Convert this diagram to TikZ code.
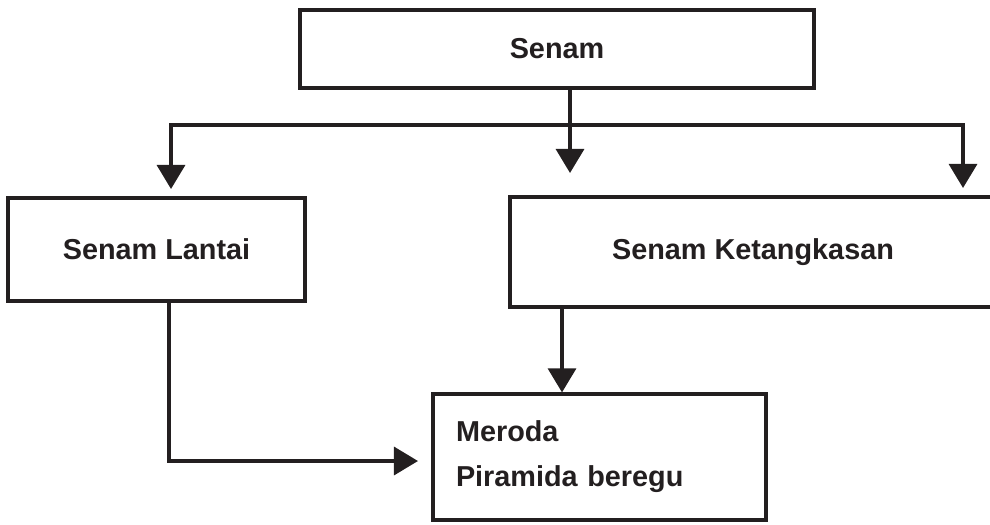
\documentclass[tikz,border=0pt]{standalone}
\usepackage{fontspec}
\setmainfont{Liberation Sans}
\usetikzlibrary{arrows.meta,positioning,calc}
\definecolor{inkblack}{RGB}{35,31,32}

\begin{document}
\begin{tikzpicture}[
    box/.style={draw=inkblack, line width=2.3pt, text=inkblack, inner sep=0pt,
        font=\fontsize{20.5}{32}\selectfont\bfseries},
    arr/.style={draw=inkblack, line width=2.3pt, -{Triangle[width=0.7cm,length=0.6cm]}}
]
    % Frame of the page (the right box runs off the edge)
    \path[use as bounding box, clip] (0,0) rectangle (24.75,-13.1);

    % Boxes
    \node[box, minimum width=12.85cm, minimum height=1.95cm] (senam) at (13.925,-1.225) {Senam};
    \node[box, minimum width=7.425cm, minimum height=2.575cm] (lantai) at (3.9125,-6.2375) {Senam Lantai};
    \node[box, minimum width=12.15cm, minimum height=2.75cm] (ketangkasan) at (18.825,-6.3) {Senam Ketangkasan};
    \node[box, minimum width=8.325cm, minimum height=3.15cm, text width=7.175cm,
        align=left, inner xsep=0.575cm] (meroda) at (14.9875,-11.425) {Meroda\\Piramida beregu};

    % Branches from Senam
    \coordinate (bus) at (14.25,-3.125);
    \coordinate (rdrop) at (24.075,-3.125);
    \draw[arr, shorten >=0.56cm] (senam.south -| bus) -- (bus |- ketangkasan.north);
    \draw[arr, shorten >=0.185cm] (bus) -| ([xshift=0.3625cm]lantai.north);
    \draw[arr, shorten >=0.185cm] (bus) -- (rdrop) -- (rdrop |- ketangkasan.north);

    % Into the bottom box
    \coordinate (ldrop) at ([xshift=0.3125cm]lantai.south);
    \coordinate (kdrop) at ([xshift=-4.775cm]ketangkasan.south);
    \draw[arr, shorten >=0.335cm] (ldrop) |- ([yshift=-0.1cm]meroda.west);
    \draw[arr] (kdrop) -- (kdrop |- meroda.north);
\end{tikzpicture}
\end{document}
